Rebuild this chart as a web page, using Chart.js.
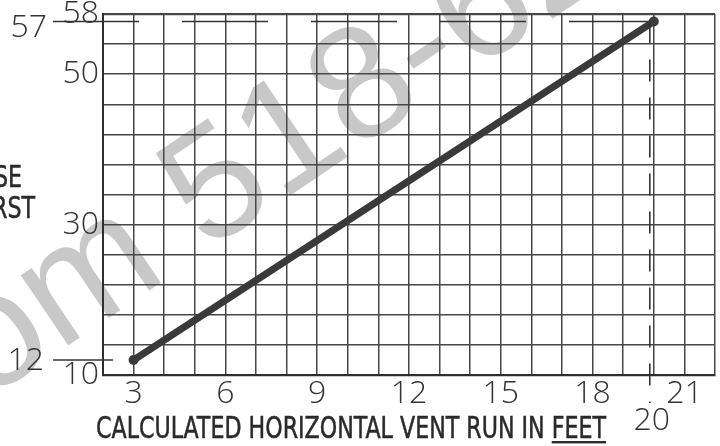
<!DOCTYPE html>
<html>
<head>
<meta charset="utf-8">
<script src="https://cdn.jsdelivr.net/npm/chart.js@4.4.1/dist/chart.umd.min.js"></script>
<style>
  html, body { margin: 0; padding: 0; background: #fff; }
  #wrap { width: 720px; height: 446px; }
</style>
</head>
<body>
<div id="wrap"><canvas id="c" width="720" height="446"></canvas></div>
<script>
// ---- data ----
const runFeet = [3, 20];            // x values of the line
const riseInches = [12, 57];        // y values of the line
const xTickLabels = [3, 6, 9, 12, 15, 18, 21];
const yTickLabels = [10, 30, 50, 58];
const xRange = [2, 22];
const yRange = [10, 58];
const refX = 20;                    // marked x value (dashed vertical)
const refYs = [57, 12];             // marked y values
const axisTitle = "CALCULATED HORIZONTAL VENT RUN IN ";
const axisTitleUnderlined = "FEET";
const leftTitleFragments = ["SE", "RST"];
const watermark = "com 518-626";

const NUM_FONT = '"Open Sans", "Roboto", "DejaVu Sans", sans-serif';
const TXT_FONT = '"Liberation Sans Narrow", "DejaVu Sans Condensed", "Liberation Sans", sans-serif';
const INK = '#333333';
const GRID = '#474747';

function drawText(ctx, txt, x, y, align, sx) {
  ctx.save();
  ctx.fillStyle = '#2a2a2a';
  ctx.strokeStyle = '#2a2a2a';
  ctx.lineWidth = 0.5;
  ctx.font = '30px ' + TXT_FONT;
  ctx.textBaseline = 'alphabetic';
  ctx.textAlign = align;
  ctx.translate(x, y);
  ctx.scale(sx, 1);
  ctx.fillText(txt, 0, 0);
  ctx.strokeText(txt, 0, 0);
  ctx.restore();
}

const overlay = {
  id: 'overlay',
  beforeDraw(chart) {
    const ctx = chart.ctx;
    ctx.save();
    ctx.fillStyle = '#c8c8c8';
    ctx.font = '160px "Liberation Sans", Arial, sans-serif';
    ctx.textBaseline = 'alphabetic';
    ctx.translate(-81, 446);
    ctx.rotate(-34 * Math.PI / 180);
    ctx.fillText(watermark, 0, 0);
    ctx.restore();
  },
  afterDatasetsDraw(chart) {
    const ctx = chart.ctx;
    const xs = chart.scales.x, ys = chart.scales.y;
    const a = chart.chartArea;
    const px20 = xs.getPixelForValue(refX) - 4;
    const py57 = ys.getPixelForValue(refYs[0]);
    const py12 = ys.getPixelForValue(refYs[1]);
    ctx.save();
    ctx.strokeStyle = INK;
    ctx.lineWidth = 1.6;
    ctx.setLineDash([86, 43]);
    ctx.beginPath();
    ctx.moveTo(53, py57);
    ctx.lineTo(px20, py57);
    ctx.stroke();
    ctx.setLineDash([22, 16]);
    ctx.beginPath();
    ctx.moveTo(px20, py57);
    ctx.lineTo(px20, a.bottom + 28);
    ctx.stroke();
    ctx.setLineDash([]);
    ctx.beginPath();
    ctx.moveTo(53, py12);
    ctx.lineTo(a.left + 10, py12);
    ctx.stroke();
    ctx.restore();

    ctx.save();
    ctx.fillStyle = INK;
    ctx.font = '300 32px ' + NUM_FONT;
    ctx.textBaseline = 'middle';
    ctx.textAlign = 'right';
    ctx.fillText(String(refYs[0]), 47, py57 + 6);
    ctx.fillText(String(refYs[1]), 44, py12 + 1);
    ctx.textAlign = 'center';
    ctx.fillText(String(refX), px20 + 2, a.bottom + 46);
    ctx.restore();

    ctx.save();
    ctx.font = '30px ' + TXT_FONT;
    const full = axisTitle + axisTitleUnderlined;
    const w = ctx.measureText(full).width;
    const w0 = ctx.measureText(axisTitle).width;
    const w1 = ctx.measureText(axisTitleUnderlined).width;
    ctx.restore();
    const sx = 510 / w;
    drawText(ctx, full, 96, 438, 'left', sx);
    ctx.save();
    ctx.fillStyle = '#2a2a2a';
    ctx.fillRect(96 + w0 * sx, 441, w1 * sx, 2.4);
    ctx.restore();

    drawText(ctx, leftTitleFragments[0], 22, 187, 'right', sx);
    drawText(ctx, leftTitleFragments[1], 35, 218, 'right', sx);
  }
};

new Chart(document.getElementById('c'), {
  type: 'line',
  data: {
    datasets: [{
      data: runFeet.map((x, i) => ({ x, y: riseInches[i] })),
      borderColor: '#3a3a3a',
      backgroundColor: '#3a3a3a',
      borderWidth: 7,
      borderCapStyle: 'round',
      pointRadius: 5,
      pointBackgroundColor: '#3a3a3a',
      pointBorderWidth: 0,
      fill: false,
      tension: 0
    }]
  },
  options: {
    responsive: false,
    animation: false,
    events: [],
    layout: { padding: { top: 14, right: 0, left: 0, bottom: 0 } },
    plugins: { legend: { display: false }, tooltip: { enabled: false } },
    scales: {
      x: {
        type: 'linear',
        min: xRange[0], max: xRange[1],
        afterFit(s) { s.height = 71; s.paddingLeft = 0; s.paddingRight = 0; },
        grid: { color: GRID, lineWidth: 1.5, drawTicks: false },
        border: { color: '#2e2e2e', width: 2.2 },
        ticks: {
          stepSize: 1, autoSkip: false, maxRotation: 0,
          padding: 0,
          color: INK,
          font: { family: NUM_FONT, size: 32, weight: '300' },
          callback: v => xTickLabels.includes(v) ? String(v) : ''
        }
      },
      y: {
        type: 'linear',
        min: yRange[0], max: yRange[1],
        afterFit(s) { s.width = 103; s.paddingTop = 0; s.paddingBottom = 0; },
        grid: { color: GRID, lineWidth: (c) => c.tick && c.tick.value === yRange[1] ? 2.2 : 1.4, drawTicks: false },
        border: { color: '#2e2e2e', width: 2 },
        ticks: {
          stepSize: 4, autoSkip: false,
          padding: 4,
          color: INK,
          font: { family: NUM_FONT, size: 32, weight: '300' },
          callback: v => yTickLabels.includes(v) ? String(v) : ''
        }
      }
    }
  },
  plugins: [overlay]
});
</script>
</body>
</html>
